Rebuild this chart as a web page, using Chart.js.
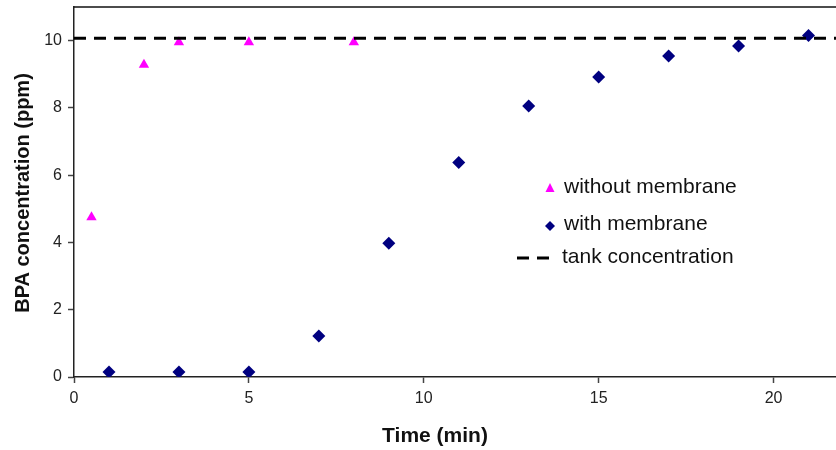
<!DOCTYPE html>
<html>
<head>
<meta charset="utf-8">
<script src="https://cdn.jsdelivr.net/npm/chart.js@4"></script>
<style>
  html, body { margin: 0; padding: 0; background: #fff; overflow: hidden; }
  #wrap { width: 850px; height: 450px; }
</style>
</head>
<body>
<div id="wrap"><canvas id="myChart" width="850" height="450"></canvas></div>
<script>
// data
var timeWithout = [0.5, 2, 3, 5, 8];
var bpaWithout = [4.75, 9.28, 9.95, 9.95, 9.95];
var timeWith = [1, 3, 5, 7, 9, 11, 13, 15, 17, 19, 21];
var bpaWith = [0.15, 0.15, 0.15, 1.22, 3.98, 6.38, 8.06, 8.92, 9.54, 9.84, 10.15];
var tankTime = [0, 22];
var tankLevel = 10.07;
var xTicks = [0, 5, 10, 15, 20];
var yTicks = [0, 2, 4, 6, 8, 10];

function toPoints(xs, ys) {
  return xs.map(function (x, i) { return { x: x, y: ys[i] }; });
}

var font = 'Liberation Sans, Arial, sans-serif';

// legend, axis titles and top frame line drawn by hand
var extras = {
  id: 'extras',
  afterDraw: function (chart) {
    var c = chart.ctx;
    var a = chart.chartArea;
    c.save();
    c.strokeStyle = '#111';
    c.lineWidth = 1.5;
    c.beginPath();
    c.moveTo(a.left, a.top);
    c.lineTo(a.right, a.top);
    c.stroke();

    // axis titles
    c.fillStyle = '#111';
    c.font = 'bold 21px ' + font;
    c.textAlign = 'center';
    c.textBaseline = 'middle';
    c.fillText('Time (min)', 435, 436);
    c.save();
    c.translate(23, 193);
    c.rotate(-Math.PI / 2);
    c.font = 'bold 20px ' + font;
    c.fillText('BPA concentration (ppm)', 0, 0);
    c.restore();

    c.textAlign = 'left';
    c.font = '21px ' + font;

    // triangle
    c.fillStyle = '#ff00ff';
    c.beginPath();
    c.moveTo(550, 183);
    c.lineTo(554.5, 192);
    c.lineTo(545.5, 192);
    c.closePath();
    c.fill();
    c.fillStyle = '#111';
    c.fillText('without membrane', 564, 187);

    // diamond
    c.fillStyle = '#000080';
    c.beginPath();
    c.moveTo(550, 221);
    c.lineTo(555, 226);
    c.lineTo(550, 231);
    c.lineTo(545, 226);
    c.closePath();
    c.fill();
    c.fillStyle = '#111';
    c.fillText('with membrane', 564, 224);

    // dash
    c.strokeStyle = '#000';
    c.lineWidth = 3;
    c.setLineDash([12, 8]);
    c.beginPath();
    c.moveTo(517, 258);
    c.lineTo(552, 258);
    c.stroke();
    c.setLineDash([]);
    c.fillText('tank concentration', 562, 257);
    c.restore();
  }
};

var ctx = document.getElementById('myChart').getContext('2d');
var chart = new Chart(ctx, {
  type: 'scatter',
  data: {
    datasets: [
      {
        label: 'tank concentration',
        type: 'line',
        data: toPoints(tankTime, [tankLevel, tankLevel]),
        borderColor: '#000',
        borderWidth: 3,
        borderDash: [12, 8],
        pointRadius: 0,
        fill: false
      },
      {
        label: 'without membrane',
        data: toPoints(timeWithout, bpaWithout),
        pointStyle: 'triangle',
        pointRadius: 6,
        backgroundColor: '#ff00ff',
        borderColor: '#ff00ff',
        borderWidth: 0
      },
      {
        label: 'with membrane',
        data: toPoints(timeWith, bpaWith),
        pointStyle: 'rectRot',
        pointRadius: 6.5,
        backgroundColor: '#000080',
        borderColor: '#000080',
        borderWidth: 0
      }
    ]
  },
  options: {
    responsive: false,
    animation: false,
    layout: { padding: { top: 7, right: 4, left: 0, bottom: 0 } },
    plugins: {
      legend: { display: false },
      tooltip: { enabled: false }
    },
    scales: {
      x: {
        type: 'linear',
        min: 0,
        max: 22,
        afterBuildTicks: function (s) { s.ticks = xTicks.map(function (v) { return { value: v }; }); },
        afterFit: function (s) { s.height = 73; s.paddingRight = 0; s.paddingLeft = 0; },
        ticks: { color: '#222', font: { family: font, size: 16 }, padding: 6 },
        grid: { drawOnChartArea: false, tickLength: 6, color: '#444', tickWidth: 1.5 },
        border: { color: '#222', width: 1.5 }
      },
      y: {
        min: 0,
        max: 11,
        afterBuildTicks: function (s) { s.ticks = yTicks.map(function (v) { return { value: v }; }); },
        afterFit: function (s) { s.width = 74; s.paddingTop = 0; s.paddingBottom = 0; },
        ticks: { color: '#222', font: { family: font, size: 16 }, padding: 6 },
        grid: { drawOnChartArea: false, tickLength: 6, color: '#444', tickWidth: 1.5 },
        border: { color: '#222', width: 1.5 }
      }
    }
  },
  plugins: [extras]
});
</script>
</body>
</html>
